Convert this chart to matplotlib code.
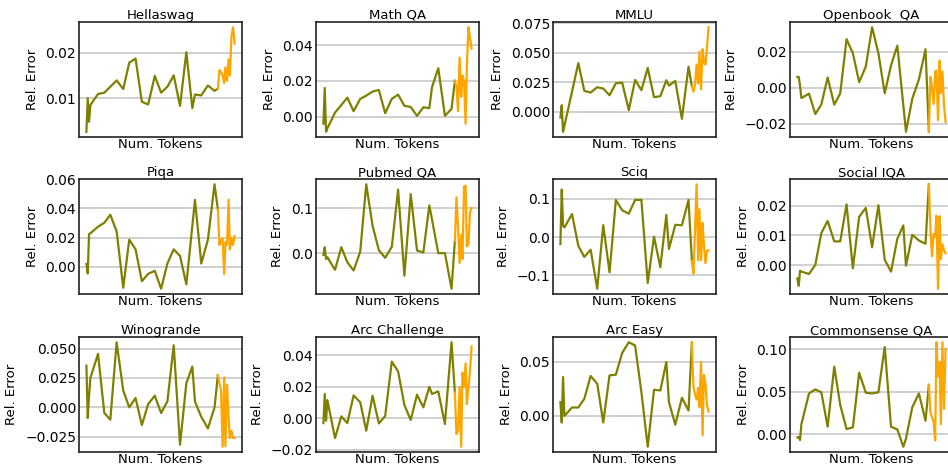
import matplotlib
matplotlib.use("Agg")
import matplotlib.pyplot as plt
from matplotlib.ticker import MaxNLocator


# ---------- data ----------
# checkpoint positions on the token axis (no tick labels in the original)
olive_tokens = [1.16, 1.37, 1.58, 1.79, 3.0, 4.0, 4.95, 5.95, 7.0, 7.95, 8.95, 9.95, 10.95,
                12.0, 13.0, 14.0, 15.0, 16.0, 17.0, 17.95, 18.37, 19.37, 20.42, 21.47, 22.0]
orange_tokens = [22.0, 22.25, 22.5, 22.75, 23.0, 23.2, 23.45, 23.7, 23.9, 24.15, 24.4, 24.65]

titles = ["Hellaswag", "Math QA", "MMLU", "Openbook  QA",
          "Piqa", "Pubmed QA", "Sciq", "Social IQA",
          "Winogrande", "Arc Challenge", "Arc Easy", "Commonsense QA"]

hellaswag_main = [0.0026, 0.010, 0.0048, 0.0085, 0.0109, 0.0112, 0.0125, 0.0139, 0.012, 0.0178,
                  0.0187, 0.0092, 0.0086, 0.0149, 0.0112, 0.0125, 0.015, 0.0083, 0.0201, 0.0078,
                  0.0108, 0.0106, 0.0128, 0.0116, 0.0121]
hellaswag_tail = [0.0121, 0.0162, 0.0157, 0.0150, 0.0133, 0.0168, 0.0138, 0.0185, 0.0150, 0.0235,
                  0.0256, 0.0220]

mathqa_main = [-0.004, 0.016, -0.0085, -0.0065, 0.0022, 0.0065, 0.0106, 0.003, 0.0099, 0.0117,
               0.014, 0.0149, 0.0019, 0.0099, 0.0123, 0.006, 0.0054, 0.0004, 0.0052, 0.0047,
               0.0164, 0.0271, 0.0004, 0.0043, 0.0200]
mathqa_tail = [0.020, 0.017, 0.003, 0.033, 0.011, 0.023, 0.020, -0.004, 0.028, 0.050, 0.044, 0.038]

mmlu_main = [-0.0048, 0.0056, -0.0169, -0.012, 0.017, 0.0413, 0.0177, 0.0163, 0.0208, 0.0197,
             0.014, 0.0242, 0.0247, 0.0014, 0.027, 0.0183, 0.0371, 0.0124, 0.0132, 0.0267,
             0.0222, 0.0261, -0.0059, 0.0382, 0.0216]
mmlu_tail = [0.0216, 0.017, 0.023, 0.040, 0.024, 0.051, 0.019, 0.053, 0.042, 0.040, 0.055, 0.0716]

openbook_main = [0.006, 0.006, 0.001, -0.0057, -0.0033, -0.0146, -0.0093, 0.0057, -0.0094, -0.0031,
                 0.0269, 0.0191, 0.0031, 0.0117, 0.0335, 0.0191, -0.0031, 0.0124, 0.0233, -0.0097,
                 -0.0244, -0.0061, 0.0046, 0.0213, -0.0244]
openbook_tail = [-0.0244, 0.006, 0.000, -0.009, 0.009, 0.0095, -0.018, 0.015, -0.003, 0.009,
                 -0.010, -0.019]

piqa_main = [0.002, -0.0045, 0.0225, 0.023, 0.0275, 0.0302, 0.0357, 0.0243, -0.0143, 0.0186,
             0.012, -0.0098, -0.0048, -0.0027, -0.015, 0.0023, 0.012, 0.0075, -0.012, 0.028,
             0.0459, 0.0023, 0.0186, 0.0566, 0.0393]
piqa_tail = [0.0393, 0.015, 0.018, 0.0195, -0.005, 0.017, 0.015, 0.046, 0.012, 0.020, 0.015, 0.021]

pubmed_main = [-0.004, 0.013, -0.013, -0.009, -0.037, 0.0133, -0.02, -0.0385, 0.0037, 0.153,
               0.061, 0.0067, -0.0104, 0.014, 0.141, -0.05, 0.131, 0.006, 0.0015, 0.106,
               0.075, 0.0, 0.0, -0.079, 0.027]
pubmed_tail = [0.027, 0.124, 0.060, -0.022, 0.041, -0.013, 0.148, 0.150, 0.015, 0.020, 0.092, 0.100]

sciq_main = [-0.018, 0.124, 0.03, 0.025, 0.060, -0.023, -0.052, -0.033, -0.135, 0.031,
             -0.092, 0.097, 0.070, 0.061, 0.097, 0.097, -0.12, 0.001, -0.079, 0.058,
             -0.031, 0.032, 0.031, 0.097, -0.062]
sciq_tail = [-0.062, -0.095, 0.02, 0.138, -0.060, 0.073, -0.060, 0.037, -0.020, -0.068, -0.035, -0.035]

siqa_main = [-0.0045, -0.007, -0.0019, -0.0022, -0.003, 0.0001, 0.0108, 0.0149, 0.008, 0.008,
             0.0205, -0.0011, 0.0163, 0.0193, 0.006, 0.0202, 0.0018, -0.0022, 0.0089, 0.0134,
             -0.0002, 0.0102, 0.0083, 0.0072, 0.0273]
siqa_tail = [0.0273, 0.012, 0.003, 0.0105, 0.0095, 0.0167, -0.008, 0.0165, 0.002, 0.007, 0.005, 0.004]

wino_main = [0.0355, -0.0091, 0.010, 0.025, 0.0455, -0.0048, -0.0105, 0.0554, 0.0142, 0.0,
             0.008, -0.015, 0.0028, 0.0099, -0.0048, 0.0051, 0.0528, -0.0318, 0.0205, 0.0347,
             0.0048, -0.008, -0.0179, 0.0, 0.0273]
wino_tail = [0.0273, 0.021, 0.014, -0.0335, 0.0255, -0.033, 0.0195, -0.010, -0.026, -0.020,
             -0.026, -0.026]

arcc_main = [-0.003, 0.0155, -0.0015, 0.0116, -0.0125, 0.0013, -0.003, 0.0146, 0.0102, -0.0078,
             0.0144, -0.0032, 0.0015, 0.036, 0.0298, 0.0085, -0.001, 0.015, 0.007, 0.020,
             0.0155, 0.0171, -0.0036, 0.0483, 0.0165]
arcc_tail = [0.0165, -0.010, -0.008, 0.020, -0.018, 0.029, 0.020, 0.035, 0.009, 0.020, 0.030, 0.0455]

arce_main = [0.0127, -0.0062, 0.036, 0.0, 0.0078, 0.0078, 0.0158, 0.037, 0.0298, -0.006,
             0.0376, 0.0382, 0.0584, 0.0683, 0.0652, 0.022, -0.0286, 0.0242, 0.0236, 0.050,
             0.0127, -0.0081, 0.0168, 0.005, 0.068]
arce_tail = [0.068, 0.027, 0.020, 0.015, 0.026, 0.008, 0.050, -0.018, 0.038, 0.030, 0.010, 0.004]

csqa_main = [-0.0035, -0.003, -0.0067, 0.012, 0.048, 0.0527, 0.0494, 0.009, 0.0794, 0.0345,
             0.0063, 0.0082, 0.0722, 0.0488, 0.048, 0.0494, 0.1024, 0.009, 0.0059, -0.0145,
             -0.005, 0.0318, 0.048, 0.016, 0.058]
csqa_tail = [0.058, 0.026, 0.020, 0.015, -0.007, 0.108, 0.068, 0.085, 0.012, 0.108, 0.030, 0.100]

main_series = [hellaswag_main, mathqa_main, mmlu_main, openbook_main,
               piqa_main, pubmed_main, sciq_main, siqa_main,
               wino_main, arcc_main, arce_main, csqa_main]
tail_series = [hellaswag_tail, mathqa_tail, mmlu_tail, openbook_tail,
               piqa_tail, pubmed_tail, sciq_tail, siqa_tail,
               wino_tail, arcc_tail, arce_tail, csqa_tail]


# ---------- figure ----------
plt.rcParams["font.size"] = 9.5
fig = plt.figure(figsize=(9.48, 4.68), dpi=100)

W, H = 948, 468
ax_w, ax_h = 163, 115
col_left = [79, 316, 553, 790]
row_top = [22, 179, 337]

for i, title in enumerate(titles):
    r, c = divmod(i, 4)
    ax = fig.add_axes([col_left[c] / W, 1 - (row_top[r] + ax_h) / H, ax_w / W, ax_h / H])

    ax.plot(olive_tokens, main_series[i], color="#808000", lw=1.6, zorder=3)
    ax.plot(orange_tokens, tail_series[i], color="#FFA500", lw=1.6, zorder=3)

    ax.yaxis.set_major_locator(MaxNLocator(4, steps=[1, 2, 2.5, 5, 10]))
    ax.grid(axis="y", color="#c4c4c4", lw=1.1, zorder=0)
    ax.set_axisbelow(True)
    ax.set_xticks([])
    ax.tick_params(axis="y", length=0, pad=2, labelsize=10)
    for s in ax.spines.values():
        s.set_linewidth(1.2)
        s.set_color("#222222")

    ax.set_title(title, pad=2, fontsize=9.5)
    ax.set_xlabel("Num. Tokens", labelpad=1)
    ax.set_ylabel("Rel. Error", labelpad=5)

fig.savefig("out.png", dpi=100)
